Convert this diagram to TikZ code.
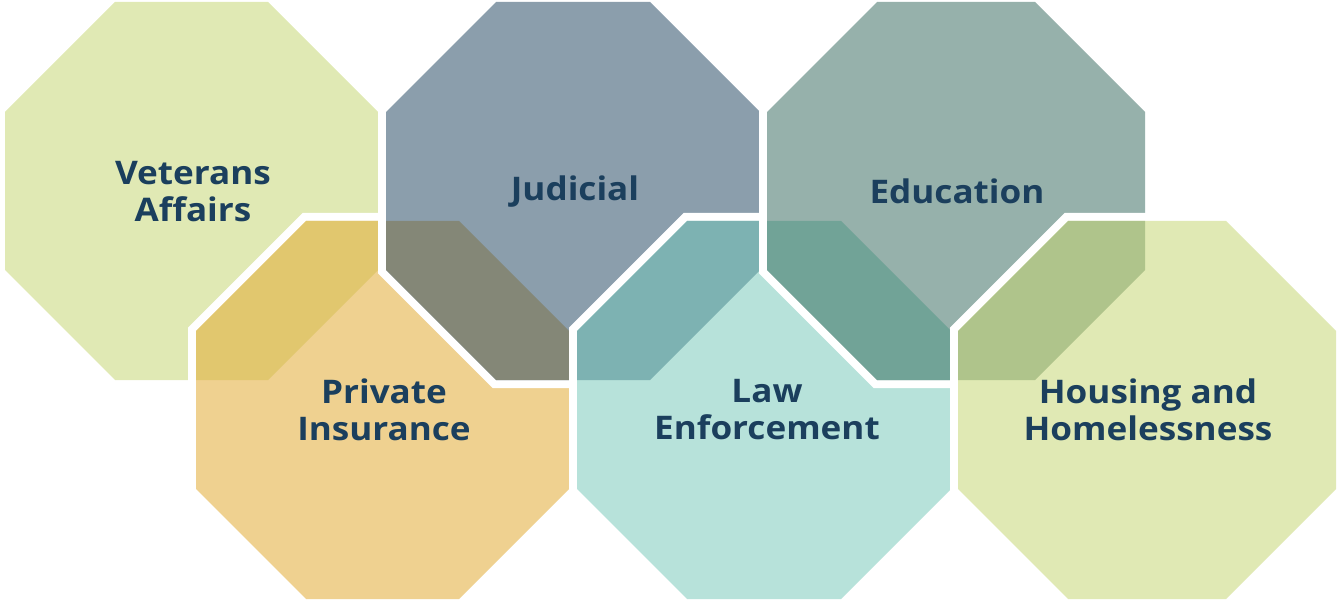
\documentclass[tikz,border=0pt]{standalone}
\usepackage{fontspec}
\setmainfont{Open Sans}[FakeStretch=1.08]

% Fill colours of the six octagons and of their overlaps
\definecolor{cVet}{HTML}{E0E9B4}
\definecolor{cPriv}{HTML}{EFD190}
\definecolor{cVetPriv}{HTML}{E1C76E}
\definecolor{cJud}{HTML}{8B9EAC}
\definecolor{cJudPriv}{HTML}{848777}
\definecolor{cLaw}{HTML}{B7E2DA}
\definecolor{cJudLaw}{HTML}{7DB2B2}
\definecolor{cEdu}{HTML}{96B1AB}
\definecolor{cEduLaw}{HTML}{71A397}
\definecolor{cHouse}{HTML}{E0E9B4}
\definecolor{cEduHouse}{HTML}{AFC48B}
\definecolor{navy}{HTML}{1B3F5D}

\tikzset{
  % octagon given by left, top, right, bottom (y grows downwards)
  octo/.style n args={4}{insert path={
    (#1+110,#2) -- (#3-110,#2) -- (#3,#2+110) -- (#3,#4-110) --
    (#3-110,#4) -- (#1+110,#4) -- (#1,#4-110) -- (#1,#2+110) -- cycle}},
  halo/.style={draw=white, line width=16pt, line join=miter},
  caption/.style={font=\bfseries\fontsize{32.5}{37}\selectfont, text=navy,
    align=center, inner sep=0pt},
}

\begin{document}
\begin{tikzpicture}[x=1pt,y=-1pt]
\useasboundingbox (0,0) rectangle (1337,601);

% Veterans Affairs
\fill[cVet, octo={5}{2}{378}{380}];

% Private Insurance, over Veterans Affairs
\path[halo, octo={196}{221}{569}{599}];
\fill[cPriv, octo={196}{221}{569}{599}];
\begin{scope}
  \clip[octo={196}{221}{569}{599}];
  \fill[cVetPriv, octo={5}{2}{378}{380}];
\end{scope}

% Judicial, over Private Insurance
\path[halo, octo={386}{2}{760}{380}];
\fill[cJud, octo={386}{2}{760}{380}];
\begin{scope}
  \clip[octo={386}{2}{760}{380}];
  \fill[cJudPriv, octo={196}{221}{569}{599}];
\end{scope}

% Law Enforcement, over Judicial
\path[halo, octo={577}{221}{951}{599}];
\fill[cLaw, octo={577}{221}{951}{599}];
\begin{scope}
  \clip[octo={577}{221}{951}{599}];
  \fill[cJudLaw, octo={386}{2}{760}{380}];
\end{scope}

% Education, over Law Enforcement
\path[halo, octo={767}{2}{1145}{380}];
\fill[cEdu, octo={767}{2}{1145}{380}];
\begin{scope}
  \clip[octo={767}{2}{1145}{380}];
  \fill[cEduLaw, octo={577}{221}{951}{599}];
\end{scope}

% Housing and Homelessness, over Education
\path[halo, octo={958}{221}{1336}{599}];
\fill[cHouse, octo={958}{221}{1336}{599}];
\begin{scope}
  \clip[octo={958}{221}{1336}{599}];
  \fill[cEduHouse, octo={767}{2}{1145}{380}];
\end{scope}

% Captions
\node[caption] (vet)   at (193,192) {Veterans\\Affairs};
\node[caption] (jud)   at (575,192) {Judicial};
\node[caption] (edu)   at (957,191) {Education};
\node[caption] (priv)  at (384,410) {Private\\Insurance};
\node[caption] (law)   at (767,410) {Law\\Enforcement};
\node[caption] (house) at (1148,410) {Housing and\\Homelessness};
\end{tikzpicture}
\end{document}
